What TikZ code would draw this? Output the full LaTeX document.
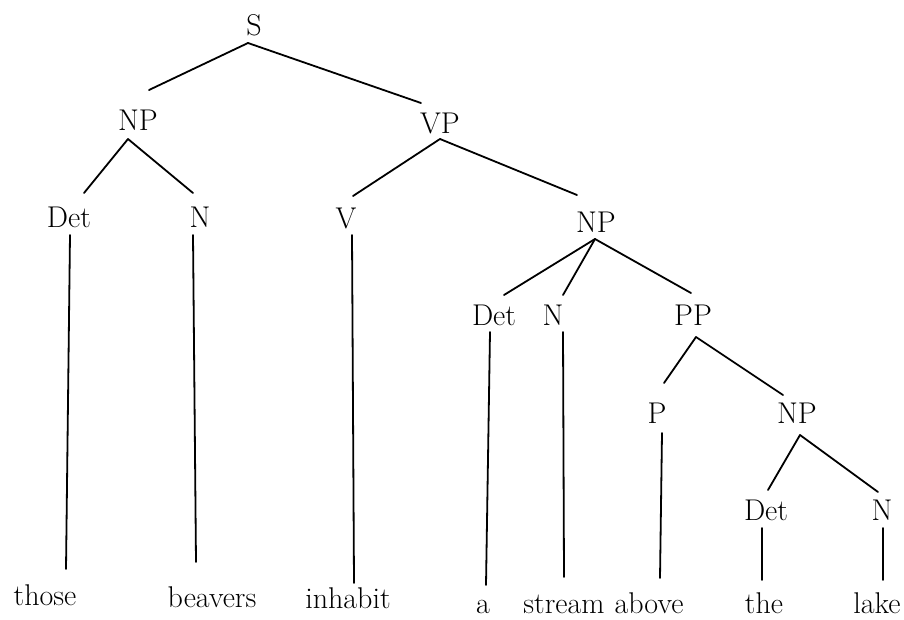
\documentclass[tikz,border=0pt]{standalone}
\usetikzlibrary{calc}
\begin{document}
\begin{tikzpicture}[x=1pt,y=-1pt,
  lab/.style={anchor=base,inner sep=0pt,font=\fontsize{30}{32}\selectfont},
  edge/.style={line width=1.8pt,line cap=round}]
\useasboundingbox (0,0) rectangle (904,619);
% nodes
\node[lab] (S)    at (254,35)  {S};
\node[lab] (NPa)  at (138,130) {NP};
\node[lab] (VP)   at (440,133) {VP};
\node[lab] (Deta) at (69,227)  {Det};
\node[lab] (Na)   at (200,227) {N};
\node[lab] (V)    at (346,228) {V};
\node[lab] (NPb)  at (596,232) {NP};
\node[lab] (Detb) at (494,325) {Det};
\node[lab] (Nb)   at (553,325) {N};
\node[lab] (PP)   at (693,325) {PP};
\node[lab] (P)    at (657,423) {P};
\node[lab] (NPc)  at (797,423) {NP};
\node[lab] (Detc) at (766,520) {Det};
\node[lab] (Nc)   at (882,520) {N};
\node[lab] (w1)   at (45,605)  {those};
\node[lab] (w2)   at (212,607) {beavers};
\node[lab] (w3)   at (348,608) {inhabit};
\node[lab] (w4)   at (483,613) {a};
\node[lab] (w5)   at (564,613) {stream};
\node[lab] (w6)   at (649,613) {above};
\node[lab] (w7)   at (764,613) {the};
\node[lab] (w8)   at (877,613) {lake};
% connectors
\draw[edge] ($(S.base)+(-6,8)$) -- ($(NPa.base)+(11,-40)$);
\draw[edge] ($(S.base)+(-6,8)$) -- ($(VP.base)+(-19,-30)$);
\draw[edge] ($(NPa.base)+(-10,9)$) -- ($(Deta.base)+(15,-34)$);
\draw[edge] ($(NPa.base)+(-10,9)$) -- ($(Na.base)+(-7,-34)$);
\draw[edge] ($(VP.base)+(0,6)$) -- ($(V.base)+(7,-32)$);
\draw[edge] ($(VP.base)+(0,6)$) -- ($(NPb.base)+(-19,-37)$);
\draw[edge] ($(Deta.base)+(1,8)$) -- ($(w1.base)+(21,-36)$);
\draw[edge] ($(Na.base)+(-7,8)$) -- ($(w2.base)+(-16,-45)$);
\draw[edge] ($(V.base)+(6,7)$) -- ($(w3.base)+(6,-25)$);
\draw[edge] ($(NPb.base)+(-1,7)$) -- ($(Detb.base)+(10,-30)$);
\draw[edge] ($(NPb.base)+(-1,7)$) -- ($(Nb.base)+(10,-30)$);
\draw[edge] ($(NPb.base)+(-1,7)$) -- ($(PP.base)+(-2,-32)$);
\draw[edge] ($(Detb.base)+(-4,7)$) -- ($(w4.base)+(3,-28)$);
\draw[edge] ($(Nb.base)+(10,7)$) -- ($(w5.base)+(0,-36)$);
\draw[edge] ($(PP.base)+(3,12)$) -- ($(P.base)+(7,-40)$);
\draw[edge] ($(PP.base)+(3,12)$) -- ($(NPc.base)+(-14,-28)$);
\draw[edge] ($(P.base)+(5,10)$) -- ($(w6.base)+(11,-35)$);
\draw[edge] ($(NPc.base)+(3,12)$) -- ($(Detc.base)+(2,-30)$);
\draw[edge] ($(NPc.base)+(3,12)$) -- ($(Nc.base)+(-4,-28)$);
\draw[edge] ($(Detc.base)+(-4,8)$) -- ($(w7.base)+(-2,-33)$);
\draw[edge] ($(Nc.base)+(1,8)$) -- ($(w8.base)+(6,-33)$);
\end{tikzpicture}
\end{document}
